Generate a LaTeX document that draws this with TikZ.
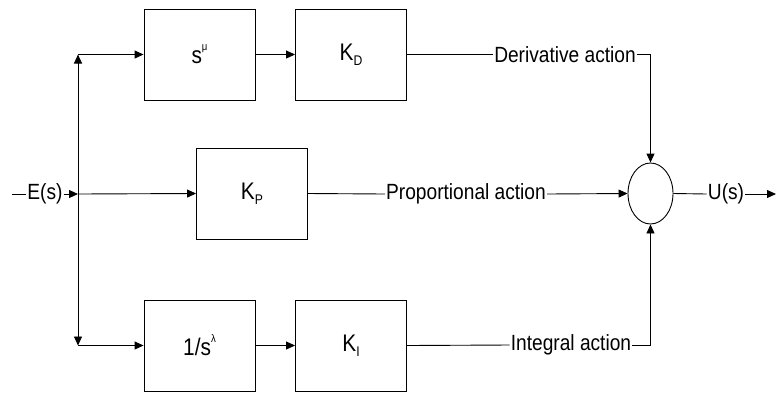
\documentclass[tikz,border=0pt]{standalone}
\usepackage{fontspec}
\setmainfont{Liberation Sans}[FakeStretch=0.87]
\usetikzlibrary{arrows.meta,shapes.geometric}
\newcommand{\mysub}[1]{\raisebox{-0.2em}{\fontsize{14}{14}\selectfont #1}}
\newcommand{\mysup}[1]{\raisebox{0.55em}{\fontsize{11}{11}\selectfont #1}}
\tikzset{
  blk/.style={draw, line width=0.9pt, minimum width=111pt, minimum height=91pt, inner sep=0pt, font=\fontsize{24}{26}\selectfont},
  lbl/.style={inner sep=1pt, font=\fontsize{22}{24}\selectfont},
  wire/.style={line width=0.9pt},
  arr/.style={wire, -{Triangle[length=9pt,width=8pt]}},
  sumnode/.style={draw, ellipse, line width=0.9pt, minimum width=45pt, minimum height=61pt, inner sep=0pt}
}
\begin{document}
\begin{tikzpicture}[x=1pt,y=-1pt]
\useasboundingbox (0,0) rectangle (776,392);
\node[blk] (sd) at (199.5,54.5) {s\mysup{μ}};
\node[blk] (kd) at (351,54.5) {K\mysub{D}};
\node[blk] (kp) at (252,193.5) {K\mysub{P}};
\node[blk] (si) at (199.5,345.5) {1/s\mysup{λ}};
\node[blk] (ki) at (351,345.5) {K\mysub{I}};
\node[sumnode] (sum) at (650.5,193.5) {};
\node[lbl] (ein) at (45,194) {E(s)};
\node[lbl] (der) at (565,54.5) {Derivative action};
\node[lbl] (prop) at (466,194) {Proportional action};
\node[lbl] (int) at (571,345) {Integral action};
\node[lbl] (uout) at (726,194) {U(s)};
\coordinate (start) at (12,194);
\coordinate (br) at (78,194);
\coordinate (tc) at (78,54.5);
\coordinate (bc) at (78,345.5);
\coordinate (fin) at (776,194);
\draw[wire] (start) -- (ein.west);
\draw[arr] (ein.east) -- (br);
\draw[arr] (br) -- (tc);
\draw[arr] (br) -- (bc);
\draw[arr] (tc) -- (sd.west);
\draw[arr] (bc) -- (si.west);
\draw[arr] (br) -- (kp.west);
\draw[arr] (sd.east) -- (kd.west);
\draw[arr] (si.east) -- (ki.west);
\draw[wire] (kd.east) -- (der.west);
\draw[arr] (der.east) -| (sum.north);
\draw[wire] (kp.east) -- (prop.west);
\draw[arr] (prop.east) -- (sum.west);
\draw[wire] (ki.east) -- (int.west);
\draw[arr] (int.east) -| (sum.south);
\draw[wire] (sum.east) -- (uout.west);
\draw[arr] (uout.east) -- (fin);
\end{tikzpicture}
\end{document}
